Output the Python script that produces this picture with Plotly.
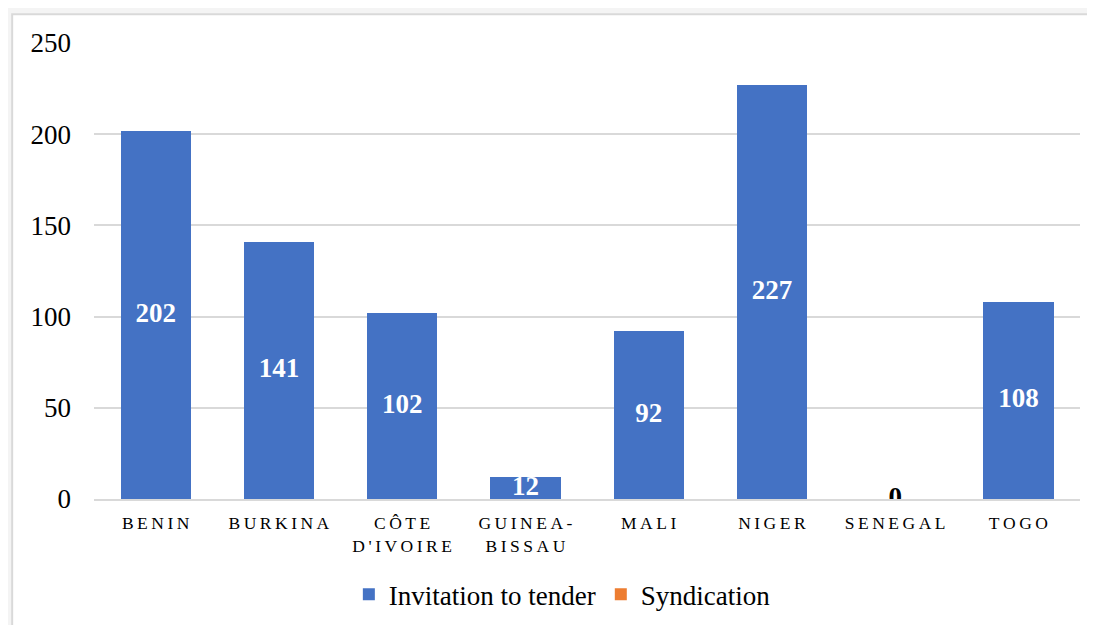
import plotly.graph_objects as go

countries = ["BENIN", "BURKINA", "CÔTE<br>D'IVOIRE", "GUINEA-<br>BISSAU", "MALI", "NIGER", "SENEGAL", "TOGO"]
invitation = [202, 141, 102, 12, 92, 227, 0, 108]
syndication = [0, 0, 0, 0, 0, 0, 0, 0]
y_ticks = [0, 50, 100, 150, 200, 250]


def spaced(label):
    # fake the letter spacing of the original with thin spaces
    return "<br>".join("\u2009".join(part) for part in label.split("<br>"))


x_labels = [spaced(c) for c in countries]
serif = "Liberation Serif"
blue = "#4472C4"
orange = "#ED7D31"

fig = go.Figure()
fig.add_trace(go.Bar(
    x=x_labels, y=invitation, name="Invitation to tender",
    marker=dict(color=blue, line=dict(width=0)),
))
fig.add_trace(go.Bar(
    x=x_labels, y=syndication, name="Syndication",
    marker=dict(color=orange, line=dict(width=0)),
))
# value labels centred in each bar (black when the bar is empty)
fig.add_trace(go.Scatter(
    x=x_labels, y=[v / 2 for v in invitation], mode="text",
    text=[str(v) for v in invitation],
    textfont=dict(family=serif, size=27, weight="bold",
                  color=["white" if v > 0 else "black" for v in invitation]),
    showlegend=False, hoverinfo="skip",
))

# page body adds 8px margin, so the figure is 8px smaller than the window
fig.update_layout(
    width=1087, height=617,
    barmode="stack", bargap=0.43,
    paper_bgcolor="#f4f4f4", plot_bgcolor="white",
    margin=dict(l=86, r=15, t=35, b=126, autoexpand=False),
    font=dict(family=serif, color="black"),
    legend=dict(orientation="h", x=0.475, xanchor="center", y=-0.21, yanchor="middle",
                font=dict(size=27, family=serif, color="black"), bgcolor="rgba(0,0,0,0)",
                itemwidth=30, traceorder="normal"),
    shapes=[dict(type="rect", xref="paper", yref="paper", layer="below",
                 x0=-0.083, x1=1.03, y0=-0.4, y1=1.063,
                 fillcolor="white", line=dict(color="#d9d9d9", width=2))],
)
fig.update_yaxes(range=[0, 250], tickvals=y_ticks, showgrid=True, gridcolor="#d9d9d9",
                 gridwidth=1.5, zeroline=False, showline=False,
                 tickfont=dict(size=27, family=serif, color="black"), ticklabelstandoff=22)
fig.update_xaxes(showline=True, linecolor="#d9d9d9", linewidth=1.5,
                 tickfont=dict(size=17.5, family=serif, color="black"), tickangle=0,
                 ticklabelstandoff=7)

fig.write_html("out.html")
